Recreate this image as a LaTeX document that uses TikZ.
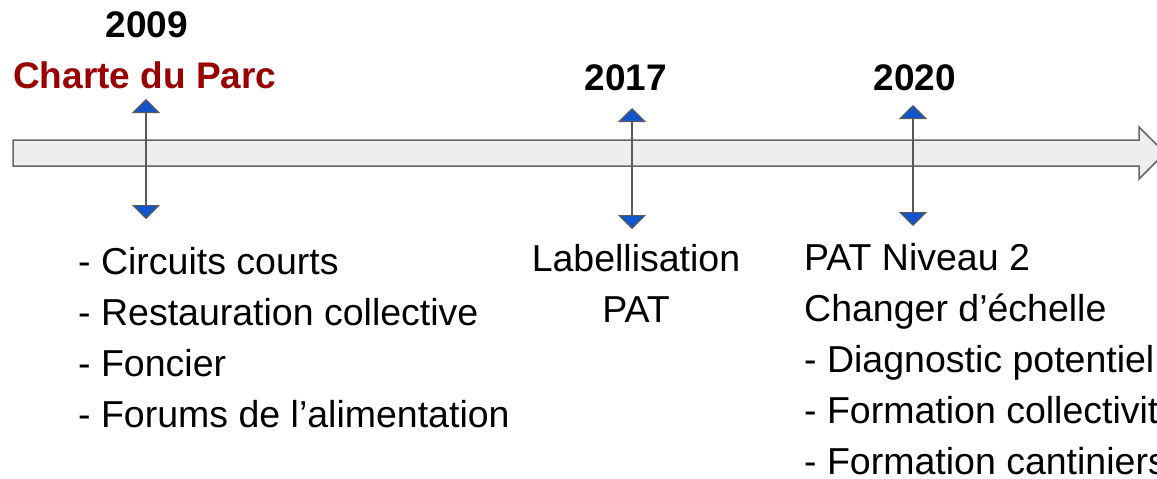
\documentclass[tikz,border=0pt]{standalone}
\usepackage{fontspec}
\setmainfont{Liberation Sans}
\usetikzlibrary{arrows.meta}
\definecolor{tipblue}{HTML}{1155CC}
\definecolor{stemgray}{HTML}{595959}
\definecolor{axisfill}{HTML}{EEEEEE}
\definecolor{axisdraw}{HTML}{666666}
\definecolor{charte}{HTML}{990000}
\begin{document}
\begin{tikzpicture}
 [x=1pt,y=-1pt,every node/.style={inner sep=0pt,font=\fontsize{37.5}{44}\selectfont},
  year/.style={font=\fontsize{37}{44}\selectfont\bfseries},
  datearrow/.style={stemgray,line width=2.5pt,
    {Triangle[width=28pt,length=14pt,line width=1.2pt,fill=tipblue]}-{Triangle[width=28pt,length=14pt,line width=1.2pt,fill=tipblue]}}]
  \useasboundingbox (0,0) rectangle (1157,479);
  % time axis
  \draw[axisdraw,fill=axisfill,line width=1.5pt,line join=miter]
    (13,140) -- (1139,140) -- (1139,127) -- (1165,153) -- (1139,179) -- (1139,166) -- (13,166) -- cycle;
  \node[year,anchor=base] (y2009) at (147,37) {2009};
  \node[year,anchor=base west,text=charte] (charte) at (13,88) {Charte du Parc};
  \node[year,anchor=base] (y2017) at (626,90) {2017};
  \node[year,anchor=base] (y2020) at (915,90) {2020};
  \coordinate (t2009) at (146,99);
  \coordinate (b2009) at (146,219);
  \coordinate (t2017) at (632,108);
  \coordinate (b2017) at (632,229);
  \coordinate (t2020) at (913,105);
  \coordinate (b2020) at (913,226);
  \foreach \from/\to in {t2009/b2009,t2017/b2017,t2020/b2020}
    \draw[datearrow] (\from) -- (\to);
  % texts under the axis
  \foreach \txt [count=\i] in {- Circuits courts,- Restauration collective,- Foncier,- Forums de l’alimentation}
    \node[anchor=base west] (left\i) at (78,{274+51*(\i-1)}) {\txt};
  \node[anchor=base] (label1) at (636,271) {Labellisation};
  \node[anchor=base] (label2) at (636,322) {PAT};
  \foreach \txt [count=\i] in {PAT Niveau 2,Changer d’échelle,- Diagnostic potentiel,- Formation collectivités,- Formation cantiniers}
    \node[anchor=base west] (right\i) at (804,{270+51*(\i-1)}) {\txt};
\end{tikzpicture}
\end{document}
